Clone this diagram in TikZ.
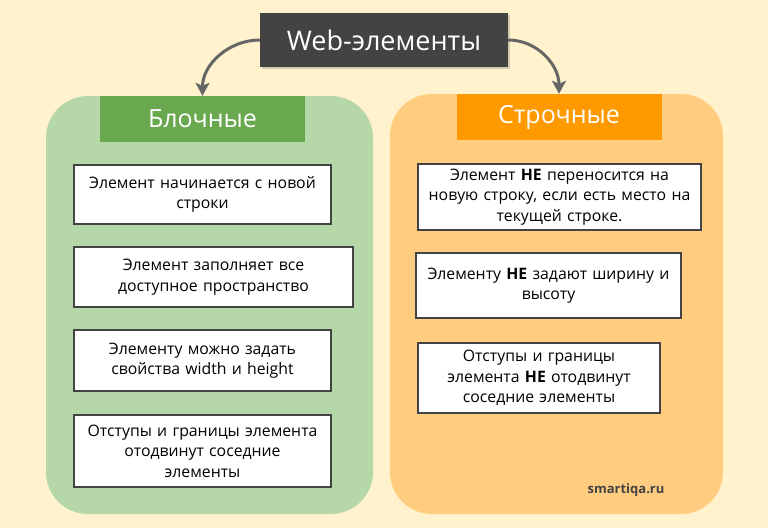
\documentclass[tikz,border=0pt]{standalone}
\usepackage{fontspec}
\setmainfont{Open Sans}
\usetikzlibrary{arrows.meta,shadows}
\definecolor{bgcream}{HTML}{FFF2CC}
\definecolor{darkbox}{HTML}{434343}
\definecolor{greenpanel}{HTML}{B6D7A8}
\definecolor{greenhead}{HTML}{6AA84F}
\definecolor{orangepanel}{HTML}{FFCC80}
\definecolor{orangehead}{HTML}{FF9900}
\definecolor{arrowgray}{HTML}{666666}
\tikzset{
  itembox/.style={draw=darkbox,line width=2.8pt,fill=white,align=center,
    inner sep=0pt,font=\fontsize{15.8}{20.5}\selectfont},
  headbox/.style={fill=#1,text=white,minimum width=205pt,minimum height=46pt,
    inner sep=0pt,font=\fontsize{25}{28}\selectfont},
  panel/.style={fill=#1,rounded corners=42pt},
  arr/.style={draw=arrowgray,line width=3pt,-{Stealth[length=13pt,width=14pt,inset=3pt]}}
}
\begin{document}
\begin{tikzpicture}[x=1pt,y=-1pt]
\fill[bgcream] (0,0) rectangle (768,528);
\useasboundingbox (0,0) rectangle (768,528);
% panels
\fill[panel=greenpanel] (46,96) rectangle (373,514);
\fill[panel=orangepanel] (390,94) rectangle (723,514);
% headers
\node[headbox=greenhead] (block) at (202.5,119) {Блочные};
\node[headbox=orangehead] (inline) at (559,117) {Строчные};
% title
\node[fill=darkbox,text=white,minimum width=248pt,minimum height=54pt,inner sep=0pt,
  font=\fontsize{27}{30}\selectfont,
  drop shadow={opacity=0.35,shadow xshift=2pt,shadow yshift=-2pt}] (title) at (384,40) {Web-элементы};
\draw[arr] (title.west) to[out=180,in=90] (block.north);
\draw[arr] (title.east) to[out=0,in=90] (inline.north);
% block items
\node[itembox,minimum width=257pt,minimum height=59pt,text width=250pt] (b1) at (202.5,194.5)
  {Элемент начинается с новой\\строки};
\node[itembox,minimum width=279pt,minimum height=60pt,text width=270pt] (b2) at (213.5,277)
  {Элемент заполняет все\\доступное пространство};
\node[itembox,minimum width=257pt,minimum height=61pt,text width=250pt] (b3) at (202.5,360.5)
  {Элементу можно задать\\свойства width и height};
\node[itembox,minimum width=257pt,minimum height=72pt,text width=250pt] (b4) at (202.5,451)
  {Отступы и границы элемента\\отодвинут соседние\\элементы};
% inline items
\node[itembox,minimum width=283pt,minimum height=66pt,text width=276pt] (i1) at (559.5,197)
  {Элемент \textbf{НЕ} переносится на\\новую строку, если есть место на\\текущей строке.};
\node[itembox,minimum width=265pt,minimum height=65pt,text width=258pt] (i2) at (548.5,285.5)
  {Элементу \textbf{НЕ} задают ширину и\\высоту};
\node[itembox,minimum width=242pt,minimum height=70pt,text width=235pt] (i3) at (539,378)
  {Отступы и границы\\элемента \textbf{НЕ} отодвинут\\соседние элементы};
\node[text=darkbox,font=\fontsize{13}{15}\selectfont\bfseries] (site) at (626,490) {smartiqa.ru};
\end{tikzpicture}
\end{document}
